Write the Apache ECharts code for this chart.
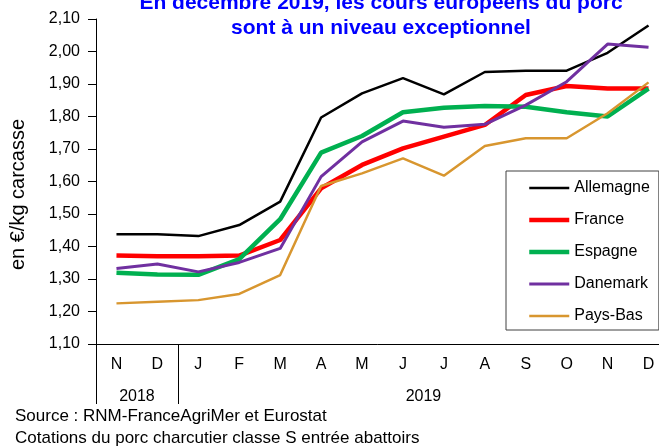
<!DOCTYPE html>
<html>
<head>
<meta charset="utf-8">
<script src="https://cdn.jsdelivr.net/npm/echarts@6/dist/echarts.min.js"></script>
<style>
  html, body { margin: 0; padding: 0; background: #fff; }
  #chart { width: 659px; height: 447px; }
</style>
</head>
<body>
<div id="chart"></div>
<script>
const months = ['N', 'D', 'J', 'F', 'M', 'A', 'M', 'J', 'J', 'A', 'S', 'O', 'N', 'D'];
const years = ['2018', '2019'];
const monthsPerYear = [2, 12];

const allemagne = [1.438, 1.438, 1.432, 1.466, 1.538, 1.797, 1.871, 1.918, 1.868, 1.937, 1.941, 1.941, 1.996, 2.080];
const france    = [1.372, 1.370, 1.370, 1.372, 1.420, 1.579, 1.651, 1.702, 1.738, 1.774, 1.866, 1.894, 1.886, 1.886];
const espagne   = [1.319, 1.314, 1.313, 1.361, 1.484, 1.689, 1.740, 1.813, 1.827, 1.832, 1.830, 1.813, 1.800, 1.886];
const danemark  = [1.332, 1.346, 1.322, 1.351, 1.394, 1.615, 1.722, 1.786, 1.767, 1.776, 1.835, 1.907, 2.023, 2.013];
const paysBas   = [1.225, 1.230, 1.235, 1.254, 1.312, 1.586, 1.625, 1.671, 1.618, 1.709, 1.733, 1.733, 1.810, 1.905];

const font = "'Liberation Sans', Arial, sans-serif";

// year band edges and centres, in month units
const yearEdges = [0];
const yearCentres = [];
monthsPerYear.forEach((n, i) => {
  yearCentres.push(yearEdges[i] + n / 2);
  yearEdges.push(yearEdges[i] + n);
});

const styles = [
  { name: 'Allemagne', color: '#000000', width: 2.5 },
  { name: 'France', color: '#FF0000', width: 4.5 },
  { name: 'Espagne', color: '#00B050', width: 4.5 },
  { name: 'Danemark', color: '#7030A0', width: 3 },
  { name: 'Pays-Bas', color: '#D8962F', width: 2.5 }
];
const values = [allemagne, france, espagne, danemark, paysBas];

const chart = echarts.init(document.getElementById('chart'));

chart.setOption({
  animation: false,
  title: {
    text: 'En décembre 2019, les cours européens du porc\nsont à un niveau exceptionnel',
    left: 376, top: -14, textAlign: 'center',
    textStyle: { color: '#0000FF', fontSize: 21, fontWeight: 'bold', fontFamily: font, lineHeight: 25 }
  },
  grid: { left: 96, top: 19, width: 573, bottom: 103, containLabel: false, outerBoundsMode: 'none' },
  legend: {
    orient: 'vertical', left: 506, top: 171,
    itemWidth: 40, itemHeight: 16, itemGap: 16,
    padding: [9, 9, 6, 21],
    backgroundColor: '#fff', borderColor: '#404040', borderWidth: 1,
    itemStyle: { opacity: 0, borderWidth: 0 },
    textStyle: { color: '#000', fontSize: 16, fontFamily: font },
    data: styles.map(s => ({ name: s.name, lineStyle: { width: s.width, color: s.color } }))
  },
  xAxis: [
    {
      type: 'category', data: months, boundaryGap: true,
      axisLine: { lineStyle: { color: '#000', width: 1 } },
      axisTick: { interval: 0, length: 28, lineStyle: { color: '#000' } },
      axisLabel: { interval: 0, color: '#000', fontSize: 16, fontFamily: font, margin: 13 }
    },
    {
      type: 'value', min: 0, max: months.length, position: 'bottom',
      axisLine: { show: false },
      splitLine: { show: false },
      axisTick: { customValues: yearEdges.slice(0, -1), length: 60, lineStyle: { color: '#000' } },
      axisLabel: {
        customValues: yearCentres, color: '#000', fontSize: 16, fontFamily: font, margin: 45,
        formatter: v => years[yearCentres.indexOf(v)] || ''
      }
    }
  ],
  yAxis: {
    type: 'value', min: 1.1, max: 2.1, interval: 0.1,
    name: 'en €/kg carcasse', nameLocation: 'middle', nameGap: 68,
    nameTextStyle: { color: '#000', fontSize: 20, fontFamily: font, padding: [0, 26, 0, 0] },
    axisLine: { show: true, lineStyle: { color: '#000' } },
    axisTick: { show: true, length: 8, lineStyle: { color: '#000' } },
    splitLine: { show: false },
    axisLabel: { color: '#000', fontSize: 16, fontFamily: font, margin: 16,
      formatter: v => v.toFixed(2).replace('.', ',') }
  },
  series: styles.map((s, i) => ({
    name: s.name, type: 'line', data: values[i], symbol: 'none', smooth: false,
    lineStyle: { color: s.color, width: s.width }, itemStyle: { color: s.color }
  })),
  graphic: [
    { type: 'text', left: 15, top: 408, style: { text: 'Source : RNM-FranceAgriMer et Eurostat', fill: '#000', font: '17px ' + font } },
    { type: 'text', left: 15, top: 430, style: { text: 'Cotations du porc charcutier classe S entrée abattoirs', fill: '#000', font: '17px ' + font } }
  ]
});
</script>
</body>
</html>
